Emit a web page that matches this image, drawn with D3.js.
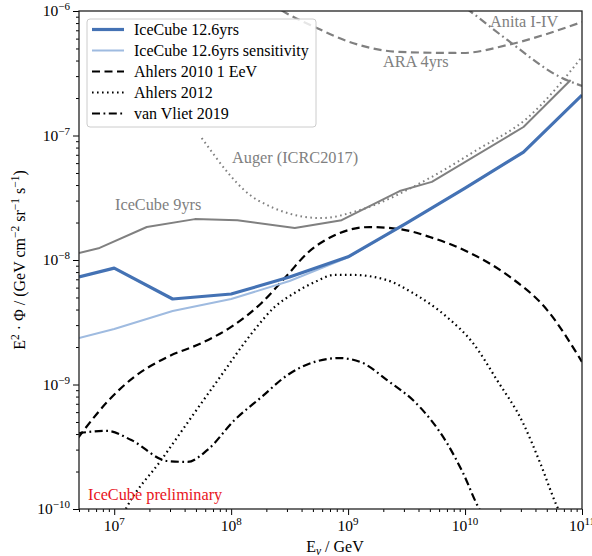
<!DOCTYPE html>
<html><head><meta charset="utf-8">
<script src="https://cdn.jsdelivr.net/npm/d3@7"></script>
<style>
body{margin:0;background:#fff;}
svg text{font-family:"Liberation Serif","Times New Roman",serif;}
</style></head>
<body><svg id="c" width="592" height="556"></svg>
<script>
// ---- data (energy in GeV, E^2 Phi in GeV cm^-2 sr^-1 s^-1) ----
const xDomain = [5e6, 1e11];
const yDomain = [1e-10, 1e-6];
const xTickExps = [7, 8, 9, 10, 11];
const yTickExps = [-10, -9, -8, -7, -6];

const ic126E = [5e6, 1e7, 3.16e7, 1e8, 3.16e8, 1e9, 3.16e9, 1e10, 3.16e10, 1e11];
const ic126F = [7.3e-9, 8.6e-9, 4.86e-9, 5.33e-9, 7.3e-9, 1.06e-8, 1.98e-8, 3.78e-8, 7.36e-8, 2.11e-7];

const icSensE = [5e6, 1e7, 3.16e7, 1e8, 3.16e8, 1e9, 3.16e9, 1e10, 3.16e10, 1e11];
const icSensF = [2.36e-9, 2.79e-9, 3.89e-9, 4.86e-9, 6.78e-9, 1.05e-8, 1.98e-8, 3.78e-8, 7.36e-8, 2.11e-7];

const ic9E = [5e6, 7.5e6, 1.9e7, 4.9e7, 1.13e8, 3.5e8, 8.8e8, 2.76e9, 5.2e9, 3.16e10, 8e10];
const ic9F = [1.14e-8, 1.25e-8, 1.84e-8, 2.13e-8, 2.09e-8, 1.81e-8, 2.09e-8, 3.58e-8, 4.24e-8, 1.17e-7, 2.79e-7];

const augerE = [5.6e7, 1.68e8, 5.9e8, 1.26e9, 5e9, 1.26e10, 3.4e10, 1e11];
const augerF = [9.55e-8, 3.03e-8, 2.17e-8, 2.52e-8, 4.56e-8, 7.65e-8, 1.38e-7, 4.28e-7];

const araE = [2.2e8, 2.76e8, 5.4e8, 1.03e9, 2.76e9, 9.5e9, 2.3e10, 1e11];
const araF = [1.15e-6, 1e-6, 7.3e-7, 5.64e-7, 4.69e-7, 4.6e-7, 5.33e-7, 8.16e-7];

const anitaE = [6e9, 1.1e10, 2.3e10, 6.5e10, 1e11];
const anitaF = [1.5e-6, 1e-6, 5.85e-7, 2.95e-7, 2.5e-7];

const ahlers10E = [4.9e6, 5.53e6, 8.7e6, 1.48e7, 2.84e7, 5.56e7, 1.0e8, 1.82e8, 3.03e8, 4.5e8, 7.67e8, 1.53e9, 2.77e9, 5.0e9, 1.1e10, 2.29e10, 5.04e10, 1e11];
const ahlers10F = [3.72e-10, 4.32e-10, 7.24e-10, 1.15e-9, 1.66e-9, 2.15e-9, 2.9e-9, 4.52e-9, 7.59e-9, 1.14e-8, 1.58e-8, 1.84e-8, 1.77e-8, 1.53e-8, 1.14e-8, 7.59e-9, 3.96e-9, 1.52e-9];

const ahlers12E = [1.15e7, 1.27e7, 2.53e7, 4.4e7, 7.94e7, 1.58e8, 2.35e8, 3.48e8, 5.18e8, 7.67e8, 1.09e9, 2.14e9, 3.58e9, 7.0e9, 1.17e10, 1.87e10, 3.13e10, 4.39e10, 6.14e10, 6.6e10];
const ahlers12F = [8.5e-11, 1.02e-10, 2.48e-10, 5.19e-10, 1.13e-9, 2.74e-9, 4.19e-9, 5.43e-9, 6.65e-9, 7.59e-9, 7.59e-9, 6.9e-9, 5.43e-9, 3.48e-9, 2.15e-9, 1.09e-9, 4.91e-10, 2.34e-10, 1.04e-10, 9e-11];

const vvE = [4.9e6, 8.7e6, 1.4e7, 2.84e7, 4.23e7, 6.27e7, 1.07e8, 1.82e8, 3.03e8, 5.18e8, 8.47e8, 1.33e9, 2.14e9, 4.11e9, 7.0e9, 9.6e9, 1.34e10, 1.48e10];
const vvF = [4.07e-10, 4.24e-10, 3.58e-10, 2.43e-10, 2.39e-10, 2.98e-10, 5.19e-10, 7.94e-10, 1.19e-9, 1.52e-9, 1.63e-9, 1.49e-9, 1.09e-9, 6.59e-10, 3.39e-10, 1.95e-10, 9.8e-11, 8.5e-11];

const legendLabels = ["IceCube 12.6yrs", "IceCube 12.6yrs sensitivity", "Ahlers 2010 1 EeV", "Ahlers 2012", "van Vliet 2019"];

// ---- layout ----
const W = 592, H = 556;
const m = {l: 79, r: 582, t: 11, b: 509};
const svg = d3.select("#c");
const x = d3.scaleLog().domain(xDomain).range([m.l, m.r]);
const y = d3.scaleLog().domain(yDomain).range([m.b, m.t]);

svg.append("defs").append("clipPath").attr("id", "clip")
  .append("rect").attr("x", m.l).attr("y", m.t).attr("width", m.r - m.l).attr("height", m.b - m.t);

const zip = (E, F) => E.map((e, i) => [e, F[i]]);
const gPlot = svg.append("g").attr("clip-path", "url(#clip)");

const GREY = "#808080", BLUE = "#4472b4", LBLUE = "#9fbbe0";
const DASH = "8,4.5", DOT = "1.6,3.4", DASHDOT = "8,3.5,1.8,3.5";

function draw(E, F, o) {
  const line = d3.line().x(d => x(d[0])).y(d => y(d[1])).curve(o.curve || d3.curveLinear);
  gPlot.append("path").datum(zip(E, F))
    .attr("d", line).attr("fill", "none")
    .attr("stroke", o.color).attr("stroke-width", o.w)
    .attr("stroke-dasharray", o.dash || null)
    .attr("stroke-linejoin", "round")
    .attr("stroke-linecap", o.cap || "butt");
}

const mono = d3.curveMonotoneX;
draw(ic9E, ic9F, {color: GREY, w: 2});
draw(augerE, augerF, {color: GREY, w: 2, dash: DOT, cap: "butt", curve: mono});
draw(araE, araF, {color: GREY, w: 2.2, dash: DASH, curve: mono});
draw(anitaE, anitaF, {color: GREY, w: 2.2, dash: DASHDOT, curve: mono});
draw(ahlers10E, ahlers10F, {color: "#000", w: 2.2, dash: DASH, curve: mono});
draw(ahlers12E, ahlers12F, {color: "#000", w: 2.2, dash: DOT, curve: mono});
draw(vvE, vvF, {color: "#000", w: 2.2, dash: DASHDOT, curve: mono});
draw(icSensE, icSensF, {color: LBLUE, w: 2});
draw(ic126E, ic126F, {color: BLUE, w: 3.2});

// ---- annotations ----
const ann = [
  {t: "IceCube 9yrs", x: 115, y: 210, c: GREY},
  {t: "Auger (ICRC2017)", x: 232, y: 163, c: GREY},
  {t: "ARA 4yrs", x: 383, y: 67, c: GREY},
  {t: "Anita I-IV", x: 490, y: 27, c: GREY},
  {t: "IceCube preliminary", x: 88, y: 500, c: "#e8141c"}
];
ann.forEach(a => svg.append("text").attr("x", a.x).attr("y", a.y)
  .attr("fill", a.c).attr("font-size", 16.3).text(a.t));

// ---- axes ----
const yMinor = [];
for (let e = -10; e < -6; e++) for (let k = 2; k <= 9; k++) yMinor.push(k * Math.pow(10, e));
const xMinor = [];
for (let e = 6; e < 11; e++) for (let k = 2; k <= 9; k++) { const v = k * Math.pow(10, e); if (v >= xDomain[0] && v <= xDomain[1]) xMinor.push(v); }

const gx = svg.append("g").attr("transform", `translate(0,${m.b})`);
gx.call(d3.axisBottom(x).tickValues(xMinor).tickSize(3).tickFormat(""));
gx.call(g => g.select(".domain").remove());
const gx2 = svg.append("g").attr("transform", `translate(0,${m.b})`);
gx2.call(d3.axisBottom(x).tickValues(xTickExps.map(e => Math.pow(10, e))).tickSize(6).tickFormat(""));
gx2.call(g => g.select(".domain").remove());

const gy = svg.append("g").attr("transform", `translate(${m.l},0)`);
gy.call(d3.axisLeft(y).tickValues(yMinor).tickSize(3).tickFormat(""));
gy.call(g => g.select(".domain").remove());
const gy2 = svg.append("g").attr("transform", `translate(${m.l},0)`);
gy2.call(d3.axisLeft(y).tickValues(yTickExps.map(e => Math.pow(10, e))).tickSize(6).tickFormat(""));
gy2.call(g => g.select(".domain").remove());
svg.selectAll(".tick line").attr("stroke", "#000").attr("stroke-width", 1);

// tick labels with superscripts
xTickExps.forEach(e => {
  const t = svg.append("text").attr("x", x(Math.pow(10, e))).attr("y", 531)
    .attr("text-anchor", "middle").attr("font-size", 15.5);
  t.append("tspan").text("10");
  t.append("tspan").attr("font-size", 11).attr("dy", -6).text(String(e));
});
yTickExps.forEach(e => {
  const t = svg.append("text").attr("x", 70).attr("y", y(Math.pow(10, e)) + 5)
    .attr("text-anchor", "end").attr("font-size", 15.5);
  t.append("tspan").text("10");
  t.append("tspan").attr("font-size", 11).attr("dy", -6).text("\u2212" + Math.abs(e));
});

// frame
svg.append("rect").attr("x", m.l).attr("y", m.t).attr("width", m.r - m.l).attr("height", m.b - m.t)
  .attr("fill", "none").attr("stroke", "#222").attr("stroke-width", 1.3);

// axis titles
const xt = svg.append("text").attr("x", 335).attr("y", 552).attr("text-anchor", "middle").attr("font-size", 16);
xt.append("tspan").text("E");
xt.append("tspan").attr("font-size", 11.5).attr("dy", 3).attr("font-style", "italic").text("\u03bd");
xt.append("tspan").attr("dy", -3).text(" / GeV");

const yt = svg.append("text").attr("transform", `translate(25,${(m.t + m.b) / 2}) rotate(-90)`)
  .attr("text-anchor", "middle").attr("font-size", 16);
yt.append("tspan").text("E");
yt.append("tspan").attr("font-size", 11.5).attr("dy", -6).text("2");
yt.append("tspan").attr("dy", 6).text(" \u00b7 \u03a6 / (GeV cm");
yt.append("tspan").attr("font-size", 11.5).attr("dy", -6).text("\u22122");
yt.append("tspan").attr("dy", 6).text(" sr");
yt.append("tspan").attr("font-size", 11.5).attr("dy", -6).text("\u22121");
yt.append("tspan").attr("dy", 6).text(" s");
yt.append("tspan").attr("font-size", 11.5).attr("dy", -6).text("\u22121");
yt.append("tspan").attr("dy", 6).text(")");

// ---- legend ----
const lg = svg.append("g");
lg.append("rect").attr("x", 87).attr("y", 19).attr("width", 229).attr("height", 108).attr("rx", 3)
  .attr("fill", "#fff").attr("fill-opacity", 0.8).attr("stroke", "#ccc").attr("stroke-width", 1);
const legStyles = [
  {color: BLUE, w: 3.2}, {color: LBLUE, w: 2},
  {color: "#000", w: 2.2, dash: DASH}, {color: "#000", w: 2.2, dash: DOT}, {color: "#000", w: 2.2, dash: DASHDOT}
];
legendLabels.forEach((lab, i) => {
  const cy = 29.5 + i * 21;
  const s = legStyles[i];
  lg.append("line").attr("x1", 92).attr("x2", 124).attr("y1", cy).attr("y2", cy)
    .attr("stroke", s.color).attr("stroke-width", s.w).attr("stroke-dasharray", s.dash || null);
  lg.append("text").attr("x", 134).attr("y", cy + 5).attr("font-size", 16).text(lab);
});
</script></body></html>
